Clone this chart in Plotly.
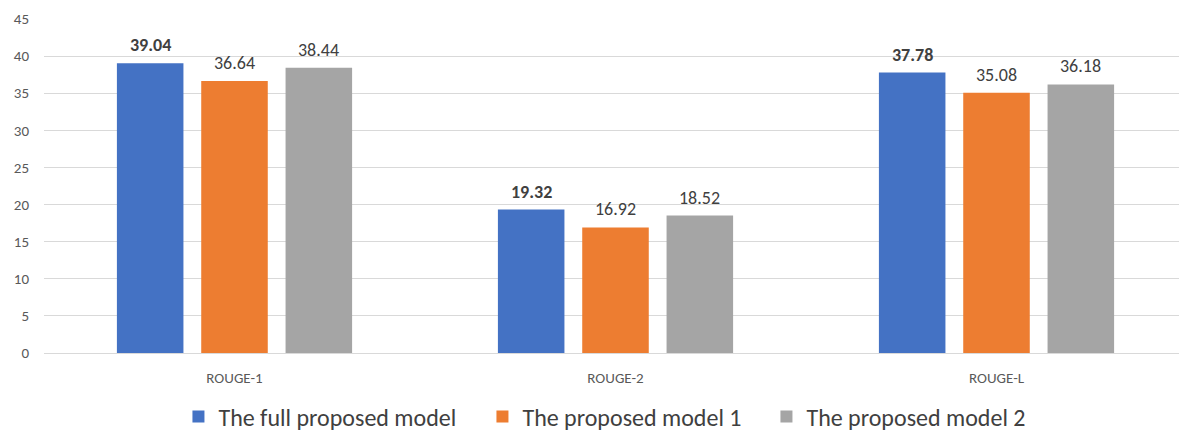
import plotly.graph_objects as go

metrics = ["ROUGE-1", "ROUGE-2", "ROUGE-L"]
full_model = [39.04, 19.32, 37.78]
model_1 = [36.64, 16.92, 35.08]
model_2 = [38.44, 18.52, 36.18]
series_names = ["The full proposed model", "The proposed model 1", "The proposed model 2"]
colors = ["#4472C4", "#ED7D31", "#A5A5A5"]
legend_widths = [259, 239, 239]

FONT = "Carlito, Calibri, 'Liberation Sans Narrow', 'Open Sans', sans-serif"
BARGAP = 0.336
BARGROUPGAP = 0.211

series = [full_model, model_1, model_2]
n_series = len(series)
slot = (1 - BARGAP) / n_series

fig = go.Figure()
annotations = []
for k, (name, vals, color, lw) in enumerate(zip(series_names, series, colors, legend_widths)):
    fig.add_trace(go.Bar(
        x=list(range(len(metrics))), y=vals, name=name,
        marker=dict(color=color, line=dict(width=0)),
        legendwidth=lw,
    ))
    # value labels above each bar; the first series is shown in bold
    offset = (k - (n_series - 1) / 2) * slot
    for i, v in enumerate(vals):
        label = f"{v:.2f}"
        annotations.append(dict(
            x=i + offset, y=v, xref="x", yref="y",
            text=f"<b>{label}</b>" if k == 0 else label,
            showarrow=False, yanchor="middle", yshift=18,
            font=dict(size=18, color="#404040", family=FONT),
        ))

fig.update_layout(
    width=1179, height=431,
    margin=dict(l=44, r=0, t=19, b=78, autoexpand=False),
    paper_bgcolor="white", plot_bgcolor="white",
    barmode="group", bargap=BARGAP, bargroupgap=BARGROUPGAP,
    font=dict(family=FONT, color="#595959"),
    annotations=annotations,
    legend=dict(orientation="h", x=0.5026, xanchor="center",
                yref="container", y=1 - 417 / 431, yanchor="middle",
                font=dict(size=24, color="#404040"), traceorder="normal",
                itemwidth=30),
    xaxis=dict(range=[-0.5, 2.479], tickvals=list(range(len(metrics))), ticktext=metrics,
               tickfont=dict(size=15, color="#595959"), showline=False, ticks="",
               ticklabelstandoff=14, showgrid=False, zeroline=False),
    yaxis=dict(range=[0, 45], dtick=5, gridcolor="#D9D9D9", gridwidth=1,
               zeroline=True, zerolinecolor="#D9D9D9", zerolinewidth=1,
               tickfont=dict(size=15, color="#595959"), ticks="", ticklabelstandoff=14),
)

fig.write_html("out.html")
